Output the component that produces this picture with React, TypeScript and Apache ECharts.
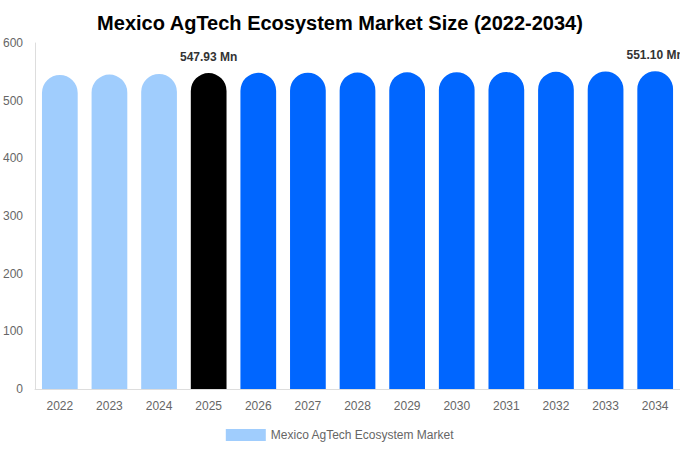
import React, { useEffect, useRef } from "react";
import * as echarts from "echarts";

const years = [
  "2022", "2023", "2024", "2025", "2026", "2027", "2028",
  "2029", "2030", "2031", "2032", "2033", "2034",
];
const marketSize = [
  544.6, 545.3, 546.4, 547.93, 548.2, 548.5, 548.8,
  549.1, 549.4, 549.7, 550.1, 550.6, 551.1,
];
const labelledYears = ["2025", "2034"];
const yTicks = [0, 100, 200, 300, 400, 500, 600];

const historyColor = "#a0cdfd";
const baseColor = "#000000";
const forecastColor = "#0066ff";

const App: React.FC = () => {
  const chartRef = useRef<HTMLDivElement>(null);

  useEffect(() => {
    document.body.style.margin = "0";
    if (!chartRef.current) return;
    const chart = echarts.init(chartRef.current, undefined, { renderer: "svg" });

    const barData = marketSize.map((v, i) => {
      const year = years[i];
      const color = i < 3 ? historyColor : i === 3 ? baseColor : forecastColor;
      return {
        value: v,
        itemStyle: { color },
        label: {
          show: labelledYears.includes(year),
          position: "top" as const,
          distance: 10,
          formatter: (p: any) => `${Number(p.value).toFixed(2)} Mn`,
          fontSize: 12,
          fontWeight: "bold" as const,
          color: "#333",
        },
      };
    });

    const option: echarts.EChartsOption = {
      animation: false,
      backgroundColor: "#ffffff",
      textStyle: { fontFamily: "Liberation Sans, Arial, sans-serif" },
      title: {
        text: "Mexico AgTech Ecosystem Market Size (2022-2034)",
        left: "center",
        top: 8,
        textStyle: { fontSize: 20, fontWeight: "bold", color: "#000" },
      },
      legend: {
        bottom: 4,
        left: "center",
        itemWidth: 40,
        itemHeight: 12,
        icon: "rect",
        textStyle: { fontSize: 12, color: "#666" },
        data: [{ name: "Mexico AgTech Ecosystem Market", itemStyle: { color: historyColor } }],
      },
      grid: { left: 34, right: 0, top: 43, bottom: 61, containLabel: false },
      xAxis: {
        type: "category",
        data: years,
        axisLine: { lineStyle: { color: "#ddd" } },
        axisTick: { show: false },
        axisLabel: { color: "#666", fontSize: 12, margin: 11 },
      },
      yAxis: {
        type: "value",
        min: yTicks[0],
        max: yTicks[yTicks.length - 1],
        interval: 100,
        axisLine: { show: true, lineStyle: { color: "#ddd" } },
        axisTick: { show: false },
        splitLine: { show: false },
        axisLabel: { color: "#666", fontSize: 12, margin: 12 },
      },
      series: [
        {
          name: "Mexico AgTech Ecosystem Market",
          type: "bar",
          barWidth: "72%",
          itemStyle: { borderRadius: [100, 100, 0, 0] },
          data: barData,
        },
      ],
    };

    chart.setOption(option);
    return () => chart.dispose();
  }, []);

  return <div ref={chartRef} style={{ width: 680, height: 450 }} />;
};

export default App;
